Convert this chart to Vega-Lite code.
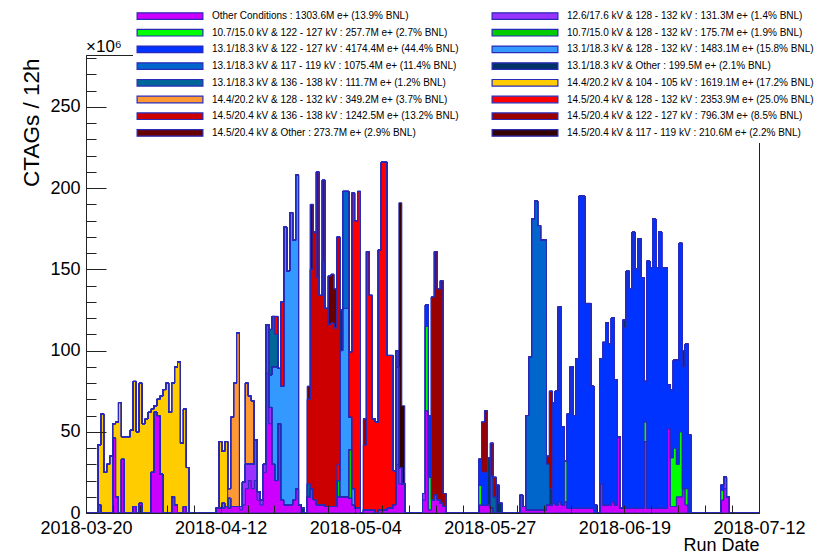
{
"$schema":"https://vega.github.io/schema/vega-lite/v6.json",
"width":673,"height":458,
"autosize":{"type":"none"},
"padding":{"left":86,"top":55,"right":56,"bottom":39},
"background":"white",
"title":{"text":"×10⁶","anchor":"start","frame":"group","fontSize":17,"fontWeight":"normal","font":"Liberation Sans","color":"black","offset":2,"baseline":"alphabetic","dy":67},
"config":{"view":{"stroke":"#222","strokeWidth":1},"font":"Liberation Sans"},
"datasets":{
"series":[
{"s":"A","label":"Other Conditions : 1303.6M e+ (13.9% BNL)"},
{"s":"B","label":"12.6/17.6 kV & 128 - 132 kV : 131.3M e+ (1.4% BNL)"},
{"s":"C","label":"10.7/15.0 kV & 122 - 127 kV : 257.7M e+ (2.7% BNL)"},
{"s":"D","label":"10.7/15.0 kV & 128 - 132 kV : 175.7M e+ (1.9% BNL)"},
{"s":"E","label":"13.1/18.3 kV & 122 - 127 kV : 4174.4M e+ (44.4% BNL)"},
{"s":"F","label":"13.1/18.3 kV & 128 - 132 kV : 1483.1M e+ (15.8% BNL)"},
{"s":"G","label":"13.1/18.3 kV & 117 - 119 kV : 1075.4M e+ (11.4% BNL)"},
{"s":"H","label":"13.1/18.3 kV & Other : 199.5M e+ (2.1% BNL)"},
{"s":"I","label":"13.1/18.3 kV & 136 - 138 kV : 111.7M e+ (1.2% BNL)"},
{"s":"J","label":"14.4/20.2 kV & 104 - 105 kV : 1619.1M e+ (17.2% BNL)"},
{"s":"K","label":"14.4/20.2 kV & 128 - 132 kV : 349.2M e+ (3.7% BNL)"},
{"s":"L","label":"14.5/20.4 kV & 128 - 132 kV : 2353.9M e+ (25.0% BNL)"},
{"s":"M","label":"14.5/20.4 kV & 136 - 138 kV : 1242.5M e+ (13.2% BNL)"},
{"s":"N","label":"14.5/20.4 kV & 122 - 127 kV : 796.3M e+ (8.5% BNL)"},
{"s":"O","label":"14.5/20.4 kV & Other : 273.7M e+ (2.9% BNL)"},
{"s":"P","label":"14.5/20.4 kV & 117 - 119 kV : 210.6M e+ (2.2% BNL)"}
],
"bins":[
{"t":"2018-03-20T06:00Z","s":"A","v":0},
{"t":"2018-03-22T06:00Z","s":"A","v":5},{"t":"2018-03-22T06:00Z","s":"J","v":37},
{"t":"2018-03-22T18:00Z","s":"J","v":61},
{"t":"2018-03-23T06:00Z","s":"J","v":25},
{"t":"2018-03-23T18:00Z","s":"J","v":30},
{"t":"2018-03-24T06:00Z","s":"J","v":35},
{"t":"2018-03-24T18:00Z","s":"A","v":46},{"t":"2018-03-24T18:00Z","s":"J","v":9},
{"t":"2018-03-25T06:00Z","s":"A","v":10},{"t":"2018-03-25T06:00Z","s":"J","v":46},
{"t":"2018-03-25T18:00Z","s":"J","v":68},
{"t":"2018-03-26T06:00Z","s":"A","v":33},{"t":"2018-03-26T06:00Z","s":"J","v":14},
{"t":"2018-03-26T18:00Z","s":"J","v":47},
{"t":"2018-03-27T06:00Z","s":"J","v":47},
{"t":"2018-03-27T18:00Z","s":"J","v":51},
{"t":"2018-03-28T06:00Z","s":"A","v":4},{"t":"2018-03-28T06:00Z","s":"J","v":77},
{"t":"2018-03-28T18:00Z","s":"J","v":50},
{"t":"2018-03-29T06:00Z","s":"A","v":6},{"t":"2018-03-29T06:00Z","s":"J","v":74},
{"t":"2018-03-29T18:00Z","s":"J","v":55},
{"t":"2018-03-30T06:00Z","s":"J","v":58},
{"t":"2018-03-30T18:00Z","s":"J","v":62},
{"t":"2018-03-31T06:00Z","s":"A","v":25},{"t":"2018-03-31T06:00Z","s":"J","v":39},
{"t":"2018-03-31T18:00Z","s":"A","v":62},{"t":"2018-03-31T18:00Z","s":"J","v":4},
{"t":"2018-04-01T06:00Z","s":"A","v":60},{"t":"2018-04-01T06:00Z","s":"J","v":10},
{"t":"2018-04-01T18:00Z","s":"A","v":24},{"t":"2018-04-01T18:00Z","s":"J","v":48},
{"t":"2018-04-02T06:00Z","s":"J","v":76},
{"t":"2018-04-02T18:00Z","s":"J","v":80},
{"t":"2018-04-03T06:00Z","s":"J","v":62},
{"t":"2018-04-03T18:00Z","s":"A","v":10},{"t":"2018-04-03T18:00Z","s":"J","v":70},
{"t":"2018-04-04T06:00Z","s":"A","v":5},{"t":"2018-04-04T06:00Z","s":"J","v":85},
{"t":"2018-04-04T18:00Z","s":"J","v":93},
{"t":"2018-04-05T06:00Z","s":"J","v":43},
{"t":"2018-04-05T18:00Z","s":"A","v":4},{"t":"2018-04-05T18:00Z","s":"J","v":60},
{"t":"2018-04-06T06:00Z","s":"J","v":28},
{"t":"2018-04-06T18:00Z","s":"A","v":0},
{"t":"2018-04-11T06:00Z","s":"A","v":3},
{"t":"2018-04-11T18:00Z","s":"A","v":3},{"t":"2018-04-11T18:00Z","s":"J","v":41},
{"t":"2018-04-12T06:00Z","s":"A","v":3},{"t":"2018-04-12T06:00Z","s":"D","v":3},{"t":"2018-04-12T06:00Z","s":"J","v":32},
{"t":"2018-04-12T18:00Z","s":"A","v":4},{"t":"2018-04-12T18:00Z","s":"J","v":40},
{"t":"2018-04-13T06:00Z","s":"A","v":3},{"t":"2018-04-13T06:00Z","s":"D","v":6},{"t":"2018-04-13T06:00Z","s":"K","v":6},
{"t":"2018-04-13T18:00Z","s":"A","v":4},{"t":"2018-04-13T18:00Z","s":"K","v":55},
{"t":"2018-04-14T06:00Z","s":"A","v":4},{"t":"2018-04-14T06:00Z","s":"K","v":76},
{"t":"2018-04-14T18:00Z","s":"A","v":4},{"t":"2018-04-14T18:00Z","s":"K","v":107},
{"t":"2018-04-15T06:00Z","s":"A","v":2},{"t":"2018-04-15T06:00Z","s":"B","v":2},
{"t":"2018-04-15T18:00Z","s":"A","v":5},{"t":"2018-04-15T18:00Z","s":"B","v":14},
{"t":"2018-04-16T06:00Z","s":"A","v":15},{"t":"2018-04-16T06:00Z","s":"B","v":15},{"t":"2018-04-16T06:00Z","s":"K","v":50},
{"t":"2018-04-16T18:00Z","s":"A","v":20},{"t":"2018-04-16T18:00Z","s":"B","v":10},{"t":"2018-04-16T18:00Z","s":"K","v":42},
{"t":"2018-04-17T06:00Z","s":"A","v":15},{"t":"2018-04-17T06:00Z","s":"B","v":15},{"t":"2018-04-17T06:00Z","s":"K","v":39},
{"t":"2018-04-17T18:00Z","s":"A","v":20},{"t":"2018-04-17T18:00Z","s":"B","v":25},
{"t":"2018-04-18T06:00Z","s":"A","v":8},{"t":"2018-04-18T06:00Z","s":"B","v":5},
{"t":"2018-04-18T18:00Z","s":"A","v":5},{"t":"2018-04-18T18:00Z","s":"B","v":3},
{"t":"2018-04-19T06:00Z","s":"A","v":25},{"t":"2018-04-19T06:00Z","s":"B","v":5},
{"t":"2018-04-19T18:00Z","s":"A","v":86},{"t":"2018-04-19T18:00Z","s":"B","v":30},
{"t":"2018-04-20T06:00Z","s":"A","v":55},{"t":"2018-04-20T06:00Z","s":"B","v":10},{"t":"2018-04-20T06:00Z","s":"F","v":20},{"t":"2018-04-20T06:00Z","s":"I","v":28},
{"t":"2018-04-20T18:00Z","s":"A","v":30},{"t":"2018-04-20T18:00Z","s":"F","v":60},{"t":"2018-04-20T18:00Z","s":"I","v":31},
{"t":"2018-04-21T06:00Z","s":"A","v":20},{"t":"2018-04-21T06:00Z","s":"F","v":70},{"t":"2018-04-21T06:00Z","s":"I","v":20},{"t":"2018-04-21T06:00Z","s":"L","v":11},
{"t":"2018-04-21T18:00Z","s":"A","v":55},{"t":"2018-04-21T18:00Z","s":"F","v":34},
{"t":"2018-04-22T06:00Z","s":"A","v":8},{"t":"2018-04-22T06:00Z","s":"F","v":70},{"t":"2018-04-22T06:00Z","s":"L","v":52},
{"t":"2018-04-22T18:00Z","s":"A","v":5},{"t":"2018-04-22T18:00Z","s":"F","v":171},
{"t":"2018-04-23T06:00Z","s":"A","v":5},{"t":"2018-04-23T06:00Z","s":"F","v":144},
{"t":"2018-04-23T18:00Z","s":"A","v":5},{"t":"2018-04-23T18:00Z","s":"F","v":180},
{"t":"2018-04-24T06:00Z","s":"A","v":8},{"t":"2018-04-24T06:00Z","s":"F","v":160},
{"t":"2018-04-24T18:00Z","s":"A","v":15},{"t":"2018-04-24T18:00Z","s":"F","v":193},
{"t":"2018-04-25T06:00Z","s":"A","v":5},
{"t":"2018-04-25T18:00Z","s":"H","v":3},
{"t":"2018-04-26T06:00Z","s":"A","v":0},
{"t":"2018-04-26T18:00Z","s":"A","v":10},{"t":"2018-04-26T18:00Z","s":"I","v":8},{"t":"2018-04-26T18:00Z","s":"M","v":52},{"t":"2018-04-26T18:00Z","s":"O","v":8},
{"t":"2018-04-27T06:00Z","s":"A","v":15},{"t":"2018-04-27T06:00Z","s":"M","v":135},{"t":"2018-04-27T06:00Z","s":"O","v":40},
{"t":"2018-04-27T18:00Z","s":"A","v":8},{"t":"2018-04-27T18:00Z","s":"M","v":165},
{"t":"2018-04-28T06:00Z","s":"A","v":5},{"t":"2018-04-28T06:00Z","s":"M","v":140},{"t":"2018-04-28T06:00Z","s":"N","v":65},
{"t":"2018-04-28T18:00Z","s":"A","v":5},{"t":"2018-04-28T18:00Z","s":"M","v":129},
{"t":"2018-04-29T06:00Z","s":"A","v":5},{"t":"2018-04-29T06:00Z","s":"M","v":150},{"t":"2018-04-29T06:00Z","s":"N","v":50},
{"t":"2018-04-29T18:00Z","s":"A","v":4},{"t":"2018-04-29T18:00Z","s":"M","v":122},
{"t":"2018-04-30T06:00Z","s":"A","v":4},{"t":"2018-04-30T06:00Z","s":"M","v":112},{"t":"2018-04-30T06:00Z","s":"O","v":30},
{"t":"2018-04-30T18:00Z","s":"A","v":4},{"t":"2018-04-30T18:00Z","s":"M","v":113},{"t":"2018-04-30T18:00Z","s":"O","v":30},
{"t":"2018-05-01T06:00Z","s":"A","v":4},{"t":"2018-05-01T06:00Z","s":"M","v":110},{"t":"2018-05-01T06:00Z","s":"O","v":24},
{"t":"2018-05-01T18:00Z","s":"A","v":10},{"t":"2018-05-01T18:00Z","s":"D","v":10},{"t":"2018-05-01T18:00Z","s":"L","v":10},{"t":"2018-05-01T18:00Z","s":"M","v":140},
{"t":"2018-05-02T06:00Z","s":"A","v":10},{"t":"2018-05-02T06:00Z","s":"F","v":90},{"t":"2018-05-02T06:00Z","s":"H","v":25},
{"t":"2018-05-02T18:00Z","s":"A","v":10},{"t":"2018-05-02T18:00Z","s":"F","v":116},{"t":"2018-05-02T18:00Z","s":"G","v":72},
{"t":"2018-05-03T06:00Z","s":"A","v":10},{"t":"2018-05-03T06:00Z","s":"F","v":116},{"t":"2018-05-03T06:00Z","s":"G","v":72},
{"t":"2018-05-03T18:00Z","s":"A","v":9},{"t":"2018-05-03T18:00Z","s":"D","v":30},{"t":"2018-05-03T18:00Z","s":"F","v":20},{"t":"2018-05-03T18:00Z","s":"L","v":40},
{"t":"2018-05-04T06:00Z","s":"A","v":5},{"t":"2018-05-04T06:00Z","s":"F","v":10},{"t":"2018-05-04T06:00Z","s":"L","v":182},
{"t":"2018-05-04T18:00Z","s":"A","v":3},{"t":"2018-05-04T18:00Z","s":"L","v":177},
{"t":"2018-05-05T06:00Z","s":"A","v":3},{"t":"2018-05-05T06:00Z","s":"L","v":195},
{"t":"2018-05-05T18:00Z","s":"A","v":0},
{"t":"2018-05-06T06:00Z","s":"A","v":2},{"t":"2018-05-06T06:00Z","s":"L","v":40},{"t":"2018-05-06T06:00Z","s":"N","v":16},
{"t":"2018-05-06T18:00Z","s":"A","v":2},{"t":"2018-05-06T18:00Z","s":"L","v":159},
{"t":"2018-05-07T06:00Z","s":"A","v":2},{"t":"2018-05-07T06:00Z","s":"L","v":132},
{"t":"2018-05-07T18:00Z","s":"A","v":2},{"t":"2018-05-07T18:00Z","s":"L","v":56},
{"t":"2018-05-08T06:00Z","s":"L","v":56},
{"t":"2018-05-08T18:00Z","s":"A","v":2},{"t":"2018-05-08T18:00Z","s":"L","v":160},
{"t":"2018-05-09T06:00Z","s":"A","v":2},{"t":"2018-05-09T06:00Z","s":"L","v":214},
{"t":"2018-05-09T18:00Z","s":"A","v":2},{"t":"2018-05-09T18:00Z","s":"L","v":214},
{"t":"2018-05-10T06:00Z","s":"A","v":3},{"t":"2018-05-10T06:00Z","s":"L","v":94},
{"t":"2018-05-10T18:00Z","s":"A","v":3},{"t":"2018-05-10T18:00Z","s":"L","v":94},
{"t":"2018-05-11T06:00Z","s":"A","v":5},{"t":"2018-05-11T06:00Z","s":"L","v":21},
{"t":"2018-05-11T18:00Z","s":"A","v":30},{"t":"2018-05-11T18:00Z","s":"B","v":60},{"t":"2018-05-11T18:00Z","s":"L","v":10},
{"t":"2018-05-12T06:00Z","s":"A","v":18},{"t":"2018-05-12T06:00Z","s":"B","v":10},{"t":"2018-05-12T06:00Z","s":"P","v":163},
{"t":"2018-05-12T18:00Z","s":"A","v":18},{"t":"2018-05-12T18:00Z","s":"P","v":48},
{"t":"2018-05-13T06:00Z","s":"A","v":0},
{"t":"2018-05-16T06:00Z","s":"A","v":8},{"t":"2018-05-16T06:00Z","s":"B","v":4},
{"t":"2018-05-16T18:00Z","s":"A","v":63},{"t":"2018-05-16T18:00Z","s":"C","v":52},{"t":"2018-05-16T18:00Z","s":"E","v":13},
{"t":"2018-05-17T06:00Z","s":"A","v":2},{"t":"2018-05-17T06:00Z","s":"C","v":20},{"t":"2018-05-17T06:00Z","s":"E","v":38},
{"t":"2018-05-17T18:00Z","s":"A","v":8},{"t":"2018-05-17T18:00Z","s":"N","v":125},
{"t":"2018-05-18T06:00Z","s":"A","v":11},{"t":"2018-05-18T06:00Z","s":"N","v":150},
{"t":"2018-05-18T18:00Z","s":"A","v":8},{"t":"2018-05-18T18:00Z","s":"N","v":130},
{"t":"2018-05-19T06:00Z","s":"A","v":6},{"t":"2018-05-19T06:00Z","s":"N","v":137},
{"t":"2018-05-19T18:00Z","s":"A","v":4},{"t":"2018-05-19T18:00Z","s":"N","v":8},
{"t":"2018-05-20T06:00Z","s":"A","v":0},
{"t":"2018-05-25T18:00Z","s":"A","v":5},{"t":"2018-05-25T18:00Z","s":"C","v":12},{"t":"2018-05-25T18:00Z","s":"E","v":16},
{"t":"2018-05-26T06:00Z","s":"A","v":5},{"t":"2018-05-26T06:00Z","s":"E","v":20},{"t":"2018-05-26T06:00Z","s":"N","v":31},
{"t":"2018-05-26T18:00Z","s":"A","v":5},{"t":"2018-05-26T18:00Z","s":"E","v":20},{"t":"2018-05-26T18:00Z","s":"N","v":38},
{"t":"2018-05-27T06:00Z","s":"A","v":5},{"t":"2018-05-27T06:00Z","s":"H","v":29},
{"t":"2018-05-27T18:00Z","s":"A","v":3},{"t":"2018-05-27T18:00Z","s":"I","v":20},{"t":"2018-05-27T18:00Z","s":"N","v":20},
{"t":"2018-05-28T06:00Z","s":"I","v":10},{"t":"2018-05-28T06:00Z","s":"N","v":12},
{"t":"2018-05-28T18:00Z","s":"H","v":17},
{"t":"2018-05-29T06:00Z","s":"H","v":6},
{"t":"2018-05-29T18:00Z","s":"A","v":0},
{"t":"2018-06-01T18:00Z","s":"A","v":11},
{"t":"2018-06-02T06:00Z","s":"A","v":4},
{"t":"2018-06-02T18:00Z","s":"A","v":2},{"t":"2018-06-02T18:00Z","s":"G","v":58},
{"t":"2018-06-03T06:00Z","s":"A","v":2},{"t":"2018-06-03T06:00Z","s":"G","v":94},
{"t":"2018-06-03T18:00Z","s":"A","v":2},{"t":"2018-06-03T18:00Z","s":"G","v":179},
{"t":"2018-06-04T06:00Z","s":"A","v":2},{"t":"2018-06-04T06:00Z","s":"G","v":190},
{"t":"2018-06-04T18:00Z","s":"A","v":2},{"t":"2018-06-04T18:00Z","s":"G","v":175},
{"t":"2018-06-05T06:00Z","s":"A","v":2},{"t":"2018-06-05T06:00Z","s":"G","v":166},
{"t":"2018-06-05T18:00Z","s":"A","v":2},{"t":"2018-06-05T18:00Z","s":"G","v":166},
{"t":"2018-06-06T06:00Z","s":"A","v":5},{"t":"2018-06-06T06:00Z","s":"G","v":25},{"t":"2018-06-06T06:00Z","s":"N","v":5},
{"t":"2018-06-06T18:00Z","s":"A","v":5},{"t":"2018-06-06T18:00Z","s":"H","v":10},{"t":"2018-06-06T18:00Z","s":"N","v":60},
{"t":"2018-06-07T06:00Z","s":"A","v":6},{"t":"2018-06-07T06:00Z","s":"E","v":62},
{"t":"2018-06-07T18:00Z","s":"A","v":5},{"t":"2018-06-07T18:00Z","s":"E","v":70},
{"t":"2018-06-08T06:00Z","s":"A","v":7},{"t":"2018-06-08T06:00Z","s":"E","v":120},
{"t":"2018-06-08T18:00Z","s":"A","v":5},{"t":"2018-06-08T18:00Z","s":"E","v":48},
{"t":"2018-06-09T06:00Z","s":"A","v":7},{"t":"2018-06-09T06:00Z","s":"C","v":25},
{"t":"2018-06-09T18:00Z","s":"A","v":3},{"t":"2018-06-09T18:00Z","s":"E","v":58},
{"t":"2018-06-10T06:00Z","s":"A","v":3},{"t":"2018-06-10T06:00Z","s":"E","v":87},
{"t":"2018-06-10T18:00Z","s":"A","v":3},{"t":"2018-06-10T18:00Z","s":"E","v":57},
{"t":"2018-06-11T06:00Z","s":"A","v":3},{"t":"2018-06-11T06:00Z","s":"E","v":92},
{"t":"2018-06-11T18:00Z","s":"A","v":3},{"t":"2018-06-11T18:00Z","s":"E","v":192},
{"t":"2018-06-12T06:00Z","s":"A","v":3},{"t":"2018-06-12T06:00Z","s":"E","v":192},
{"t":"2018-06-12T18:00Z","s":"A","v":3},{"t":"2018-06-12T18:00Z","s":"E","v":126},
{"t":"2018-06-13T06:00Z","s":"A","v":3},{"t":"2018-06-13T06:00Z","s":"E","v":126},
{"t":"2018-06-13T18:00Z","s":"A","v":3},{"t":"2018-06-13T18:00Z","s":"E","v":75},
{"t":"2018-06-14T06:00Z","s":"E","v":5},
{"t":"2018-06-14T18:00Z","s":"A","v":0},
{"t":"2018-06-15T06:00Z","s":"A","v":18},{"t":"2018-06-15T06:00Z","s":"E","v":77},
{"t":"2018-06-15T18:00Z","s":"A","v":5},{"t":"2018-06-15T18:00Z","s":"E","v":100},
{"t":"2018-06-16T06:00Z","s":"A","v":5},{"t":"2018-06-16T06:00Z","s":"E","v":112},
{"t":"2018-06-16T18:00Z","s":"A","v":5},{"t":"2018-06-16T18:00Z","s":"E","v":99},
{"t":"2018-06-17T06:00Z","s":"A","v":7},{"t":"2018-06-17T06:00Z","s":"E","v":113},
{"t":"2018-06-17T18:00Z","s":"A","v":5},{"t":"2018-06-17T18:00Z","s":"E","v":77},
{"t":"2018-06-18T06:00Z","s":"A","v":47},
{"t":"2018-06-18T18:00Z","s":"A","v":3},
{"t":"2018-06-19T06:00Z","s":"A","v":3},{"t":"2018-06-19T06:00Z","s":"E","v":111},{"t":"2018-06-19T06:00Z","s":"H","v":5},
{"t":"2018-06-19T18:00Z","s":"A","v":3},{"t":"2018-06-19T18:00Z","s":"E","v":146},
{"t":"2018-06-20T06:00Z","s":"A","v":3},{"t":"2018-06-20T06:00Z","s":"E","v":135},
{"t":"2018-06-20T18:00Z","s":"A","v":3},{"t":"2018-06-20T18:00Z","s":"E","v":170},
{"t":"2018-06-21T06:00Z","s":"A","v":3},{"t":"2018-06-21T06:00Z","s":"E","v":147},
{"t":"2018-06-21T18:00Z","s":"A","v":3},{"t":"2018-06-21T18:00Z","s":"E","v":166},
{"t":"2018-06-22T06:00Z","s":"A","v":3},{"t":"2018-06-22T06:00Z","s":"E","v":142},
{"t":"2018-06-22T18:00Z","s":"A","v":44},{"t":"2018-06-22T18:00Z","s":"C","v":12},{"t":"2018-06-22T18:00Z","s":"E","v":25},
{"t":"2018-06-23T06:00Z","s":"A","v":3},{"t":"2018-06-23T06:00Z","s":"E","v":152},
{"t":"2018-06-23T18:00Z","s":"A","v":3},{"t":"2018-06-23T18:00Z","s":"E","v":148},
{"t":"2018-06-24T06:00Z","s":"A","v":3},{"t":"2018-06-24T06:00Z","s":"E","v":178},
{"t":"2018-06-24T18:00Z","s":"A","v":3},{"t":"2018-06-24T18:00Z","s":"E","v":148},
{"t":"2018-06-25T06:00Z","s":"A","v":3},{"t":"2018-06-25T06:00Z","s":"E","v":170},
{"t":"2018-06-25T18:00Z","s":"A","v":3},{"t":"2018-06-25T18:00Z","s":"E","v":148},
{"t":"2018-06-26T06:00Z","s":"A","v":3},{"t":"2018-06-26T06:00Z","s":"E","v":148},
{"t":"2018-06-26T18:00Z","s":"A","v":52},{"t":"2018-06-26T18:00Z","s":"E","v":27},
{"t":"2018-06-27T06:00Z","s":"A","v":4},{"t":"2018-06-27T06:00Z","s":"C","v":30},{"t":"2018-06-27T06:00Z","s":"E","v":42},
{"t":"2018-06-27T18:00Z","s":"A","v":4},{"t":"2018-06-27T18:00Z","s":"C","v":36},{"t":"2018-06-27T18:00Z","s":"E","v":54},
{"t":"2018-06-28T06:00Z","s":"A","v":10},{"t":"2018-06-28T06:00Z","s":"C","v":20},{"t":"2018-06-28T06:00Z","s":"E","v":64},
{"t":"2018-06-28T18:00Z","s":"A","v":10},{"t":"2018-06-28T18:00Z","s":"C","v":40},{"t":"2018-06-28T18:00Z","s":"E","v":116},
{"t":"2018-06-29T06:00Z","s":"A","v":15},{"t":"2018-06-29T06:00Z","s":"E","v":75},{"t":"2018-06-29T06:00Z","s":"H","v":10},
{"t":"2018-06-29T18:00Z","s":"A","v":5},{"t":"2018-06-29T18:00Z","s":"C","v":10},{"t":"2018-06-29T18:00Z","s":"E","v":89},
{"t":"2018-06-30T06:00Z","s":"E","v":48},
{"t":"2018-06-30T18:00Z","s":"A","v":0},
{"t":"2018-07-05T18:00Z","s":"A","v":8},{"t":"2018-07-05T18:00Z","s":"C","v":6},{"t":"2018-07-05T18:00Z","s":"E","v":3},
{"t":"2018-07-06T06:00Z","s":"A","v":15},{"t":"2018-07-06T06:00Z","s":"B","v":7},
{"t":"2018-07-06T18:00Z","s":"A","v":10},
{"t":"2018-07-07T06:00Z","s":"A","v":0},
{"t":"2018-07-12T06:00Z","s":"A","v":0}
]},
"data":{"name":"bins"},
"transform":[
{"impute":"v","key":"t","groupby":["s"],"value":0},
{"lookup":"s","from":{"data":{"name":"series"},"key":"s","fields":["label"]}}
],
"mark":{"type":"area","interpolate":"step-after","stroke":"#2a2ab8","strokeWidth":1,"fillOpacity":1},
"encoding":{
"x":{"field":"t","type":"temporal","scale":{"type":"utc","domain":[1521525600000,1531375200000]},
"axis":{"title":"Run Date","values":[1521525600000,1521919584000,1522313568000,1522707552000,1523101536000,1523495520000,1523889504000,1524283488000,1524677472000,1525071456000,1525465440000,1525859424000,1526253408000,1526647392000,1527041376000,1527435360000,1527829344000,1528223328000,1528617312000,1529011296000,1529405280000,1529799264000,1530193248000,1530587232000,1530981216000,1531375200000],
"labelExpr":"round((datum.value-1521525600000)/393984000) % 5 === 0 ? utcFormat(datum.value, '%Y-%m-%d') : ''",
"tickSize":-8,"labelPadding":14,"labelFontSize":18,"labelColor":"black","labelFont":"Liberation Sans","labelFlush":false,"labelOverlap":false,
"domainColor":"#222","tickColor":"#222","grid":false,"zindex":1,
"titleFontSize":18,"titleFontWeight":"normal","titleColor":"black","titleFont":"Liberation Sans","titleAnchor":"end","titleAlign":"right","titleX":673,"titleY":37,"titleBaseline":"alphabetic"}},
"y":{"field":"v","type":"quantitative","stack":"zero","scale":{"domain":[0,282],"nice":false},
"axis":{"title":"CTAGs / 12h","values":[0,10,20,30,40,50,60,70,80,90,100,110,120,130,140,150,160,170,180,190,200,210,220,230,240,250,260,270,280],
"labelExpr":"datum.value % 50 === 0 ? datum.label : ''",
"tickSize":{"condition":{"test":"datum.value % 50 === 0","value":-20},"value":-10},
"labelPadding":26,"labelFontSize":18,"labelColor":"black","labelFont":"Liberation Sans",
"domainColor":"#222","tickColor":"#222","grid":false,"zindex":1,
"titleFontSize":22.5,"titleFontWeight":"normal","titleColor":"black","titleFont":"Liberation Sans","titleAngle":-90,"titleAlign":"right","titleBaseline":"middle","titleX":-55,"titleY":3}},
"color":{"field":"label","type":"nominal",
"scale":{"domain":["Other Conditions : 1303.6M e+ (13.9% BNL)","12.6/17.6 kV & 128 - 132 kV : 131.3M e+ (1.4% BNL)","10.7/15.0 kV & 122 - 127 kV : 257.7M e+ (2.7% BNL)","10.7/15.0 kV & 128 - 132 kV : 175.7M e+ (1.9% BNL)","13.1/18.3 kV & 122 - 127 kV : 4174.4M e+ (44.4% BNL)","13.1/18.3 kV & 128 - 132 kV : 1483.1M e+ (15.8% BNL)","13.1/18.3 kV & 117 - 119 kV : 1075.4M e+ (11.4% BNL)","13.1/18.3 kV & Other : 199.5M e+ (2.1% BNL)","13.1/18.3 kV & 136 - 138 kV : 111.7M e+ (1.2% BNL)","14.4/20.2 kV & 104 - 105 kV : 1619.1M e+ (17.2% BNL)","14.4/20.2 kV & 128 - 132 kV : 349.2M e+ (3.7% BNL)","14.5/20.4 kV & 128 - 132 kV : 2353.9M e+ (25.0% BNL)","14.5/20.4 kV & 136 - 138 kV : 1242.5M e+ (13.2% BNL)","14.5/20.4 kV & 122 - 127 kV : 796.3M e+ (8.5% BNL)","14.5/20.4 kV & Other : 273.7M e+ (2.9% BNL)","14.5/20.4 kV & 117 - 119 kV : 210.6M e+ (2.2% BNL)"],
"range":["#cc00ff","#9933ff","#00ff00","#00cc00","#0033ff","#3399ff","#0066cc","#003366","#006699","#ffcc00","#ff9933","#ff0000","#cc0000","#990000","#660000","#330000"]},
"legend":{"title":null,"orient":"none","legendX":47,"legendY":-51,"columns":2,"direction":"horizontal","fillColor":"white","padding":4,
"symbolType":"M-4.7,-0.47H4.7V0.47H-4.7Z","symbolSize":196,"symbolOffset":25,"labelOffset":34,
"symbolStrokeColor":"#2a2ab8","symbolStrokeWidth":1.2,"symbolOpacity":1,
"labelFont":"Liberation Sans","labelFontSize":10,"labelColor":"black","labelLimit":400,"rowPadding":2.7,"columnPadding":30}},
"order":{"field":"s","sort":"ascending"}
}
}
